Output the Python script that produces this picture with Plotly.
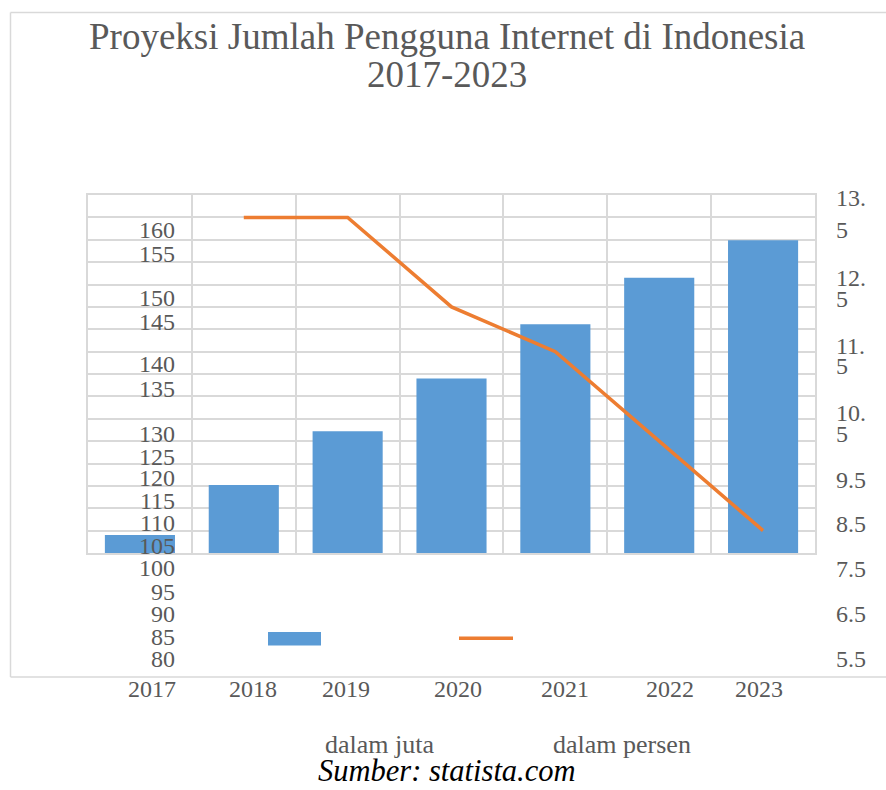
import plotly.graph_objects as go

# ---------------- data ----------------
years = ["2017", "2018", "2019", "2020", "2021", "2022", "2023"]
users_million = [84.0, 95.2, 107.2, 119.0, 131.1, 141.5, 149.9]
growth_percent = [None, 13.0, 13.0, 11.0, 10.0, 8.0, 6.0]
left_tick_labels = ["160", "155", "150", "145", "140", "135", "130", "125", "120",
                    "115", "110", "105", "100", "95", "90", "85", "80"]
right_tick_labels = ["13.5", "12.5", "11.5", "10.5", "9.5", "8.5", "7.5", "6.5", "5.5"]
title_lines = ["Proyeksi Jumlah Pengguna Internet di Indonesia", "2017-2023"]
series_names = ["dalam juta", "dalam persen"]
source_text = "Sumber: statista.com"

# ---------------- layout helpers (screen pixel positions) ----------------
W, H = 886, 790
PL, PR, PT, PB = 88, 815, 195, 553  # plot area on screen


def px(x):
    return (x - PL) / (PR - PL)


def py(y):
    return (PB - y) / (PB - PT)


GRID = "#d9d9d9"
TXT = "#595959"
BLUE = "#5b9bd5"
ORANGE = "#ed7d31"
SERIF = "Liberation Serif"

left_label_y = [230, 254, 298, 322, 364, 389, 434, 457, 478, 501, 523, 546, 568, 592, 614, 637, 659]
right_label_y = [(198, 230), (278, 299), (346, 366), (413, 434), 480, 524, 569, 614, 659]
x_label_x = [152, 253, 346, 458, 565, 670, 759]

fig = go.Figure()
fig.add_trace(go.Bar(x=years, y=users_million, name=series_names[0],
                     marker=dict(color=BLUE, line=dict(width=0)), yaxis="y"))
fig.add_trace(go.Scatter(x=years, y=growth_percent, name=series_names[1], mode="lines",
                         line=dict(color=ORANGE, width=3.5), yaxis="y2"))


def label(text, x, y, size=24, color=TXT, xanchor="center"):
    return dict(text=text, x=px(x), y=py(y), xref="paper", yref="paper",
                xanchor=xanchor, yanchor="middle", showarrow=False,
                font=dict(family=SERIF, size=size, color=color))


ann = []
# title
ann.append(label(title_lines[0], 447, 36, size=37))
ann.append(label(title_lines[1], 447, 74, size=37))
# left tick labels (misplaced as in reference)
for lab, yy in zip(left_tick_labels, left_label_y):
    ann.append(label(lab, 177, yy, xanchor="right"))
# right tick labels (wrapped ones split)
for lab, yy in zip(right_tick_labels, right_label_y):
    if isinstance(yy, tuple):
        for part, y1 in zip([lab[:-1], lab[-1:]], yy):
            ann.append(label(part, 834, y1, xanchor="left"))
    else:
        ann.append(label(lab, 834, yy, xanchor="left"))
# x labels
for lab, xx in zip(years, x_label_x):
    ann.append(label(lab, xx, 689))
# legend texts
ann.append(label(series_names[0], 379, 744, size=26))
ann.append(label(series_names[1], 622, 744, size=26))
# source
ann.append(label("<i>" + source_text + "</i>", 447, 771, size=30.5, color="#000000"))

frame = dict(color=GRID, width=1.5)
shapes = [
    # outer frame (top, left, bottom; right edge lies outside the picture)
    dict(type="line", xref="paper", yref="paper", x0=px(10.5), x1=px(886), y0=py(12.5), y1=py(12.5), line=frame),
    dict(type="line", xref="paper", yref="paper", x0=px(10.5), x1=px(10.5), y0=py(12.5), y1=py(677), line=frame),
    dict(type="line", xref="paper", yref="paper", x0=px(10.5), x1=px(886), y0=py(677), y1=py(677), line=frame),
    # legend symbols
    dict(type="rect", xref="paper", yref="paper", x0=px(268), x1=px(321), y0=py(645.5), y1=py(632),
         line=dict(width=0), fillcolor=BLUE),
    dict(type="line", xref="paper", yref="paper", x0=px(459), x1=px(513), y0=py(638.3), y1=py(638.3),
         line=dict(color=ORANGE, width=3.5)),
]

fig.update_layout(
    width=W, height=H,
    margin=dict(l=PL, r=W - PR, t=PT, b=H - PB, pad=0),
    paper_bgcolor="white", plot_bgcolor="white",
    showlegend=False,
    bargap=0.325,
    xaxis=dict(type="category", tickson="boundaries", showgrid=True, gridcolor=GRID, gridwidth=1.5,
               showticklabels=False, ticks="", showline=True, linecolor=GRID, linewidth=1.5, mirror=True,
               range=[-0.5, 6.5], fixedrange=True),
    yaxis=dict(range=[80, 160], tick0=80, dtick=5, showgrid=True, gridcolor=GRID, gridwidth=1.5,
               showticklabels=False, ticks="", zeroline=False, showline=True, linecolor=GRID,
               linewidth=1.5, mirror=True),
    yaxis2=dict(range=[5.5, 13.5], overlaying="y", side="right", showgrid=False,
                showticklabels=False, ticks="", zeroline=False, showline=False),
    annotations=ann,
    shapes=shapes,
)

fig.write_html("out.html", config={"displayModeBar": False},
               post_script="document.body.style.margin='0';document.body.style.overflow='hidden';")
